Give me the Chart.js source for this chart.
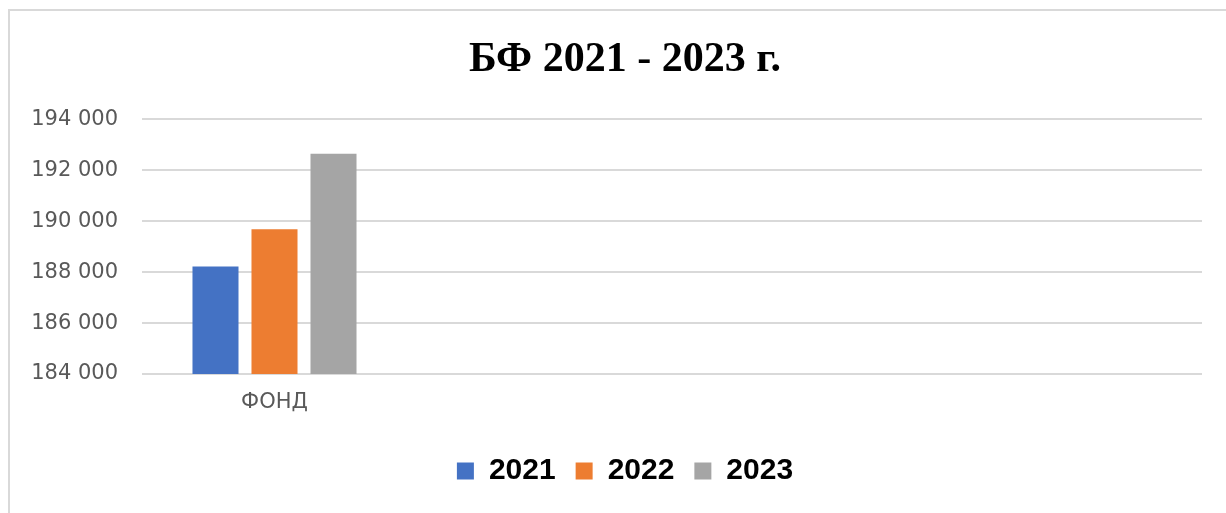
<!DOCTYPE html>
<html>
<head>
<meta charset="utf-8">
<script src="https://cdn.jsdelivr.net/npm/chart.js@4/dist/chart.umd.min.js"></script>
<style>
    html, body { margin: 0; padding: 0; background: #fff; overflow: hidden; }
    #frame {
        position: absolute; left: 8px; top: 9px; width: 1400px; height: 700px;
        border-top: 2px solid #d9d9d9; border-left: 2px solid #d9d9d9;
    }
    #wrap { position: absolute; left: 0; top: 0; width: 1250px; height: 513px; }
</style>
</head>
<body>
<div id="frame"></div>
<div id="wrap"><canvas id="fundChart"></canvas></div>
<script>
// data
const categories = ['ФОНД', '', '', ''];
const years = ['2021', '2022', '2023'];
const values2021 = [188220, null, null, null];
const values2022 = [189690, null, null, null];
const values2023 = [192650, null, null, null];
const yTicks = [184000, 186000, 188000, 190000, 192000, 194000];

const colors = ['#4472C4', '#ED7D31', '#A5A5A5'];
const series = [values2021, values2022, values2023];

function fmt(v) {
    // 194000 -> "194 000"
    return String(v).replace(/\B(?=(\d{3})+(?!\d))/g, ' ');
}

const ctx = document.getElementById('fundChart').getContext('2d');
new Chart(ctx, {
    type: 'bar',
    data: {
        labels: categories,
        datasets: years.map((y, i) => ({
            label: y,
            data: series[i],
            backgroundColor: colors[i],
            borderWidth: 0,
            categoryPercentage: 0.668,
            barPercentage: 0.78
        }))
    },
    options: {
        responsive: true,
        maintainAspectRatio: false,
        animation: false,
        layout: { padding: { left: 0, right: 0, top: 0, bottom: 17 } },
        plugins: {
            title: {
                display: true,
                text: 'БФ 2021 - 2023 г.',
                color: '#000',
                font: { family: 'Liberation Serif', size: 42, weight: 'bold' },
                padding: { top: 35, bottom: 34 }
            },
            legend: {
                position: 'bottom',
                labels: {
                    color: '#000',
                    boxWidth: 17,
                    boxHeight: 17,
                    padding: 20,
                    font: { family: 'Liberation Sans', size: 30, weight: 'bold' }
                }
            },
            tooltip: { enabled: false }
        },
        scales: {
            x: {
                afterFit: (scale) => { scale.height = 62; },
                grid: { display: false },
                border: { display: false },
                ticks: {
                    color: '#595959',
                    padding: 8,
                    font: { family: 'DejaVu Sans', size: 21 }
                }
            },
            y: {
                min: 184000,
                max: 194000,
                afterFit: (scale) => { scale.width = 142; },
                afterBuildTicks: (scale) => { scale.ticks = yTicks.map(v => ({ value: v })); },
                grid: { color: '#d9d9d9', lineWidth: 2, drawTicks: false },
                border: { display: false },
                ticks: {
                    color: '#595959',
                    padding: 24,
                    font: { family: 'DejaVu Sans', size: 21 },
                    callback: (v) => fmt(v)
                }
            },
            // empty right margin so title and legend sit where the original has them
            yRight: {
                position: 'right',
                afterFit: (scale) => { scale.width = 48; },
                grid: { display: false },
                border: { display: false },
                ticks: { display: false }
            }
        }
    }
});
</script>
</body>
</html>
